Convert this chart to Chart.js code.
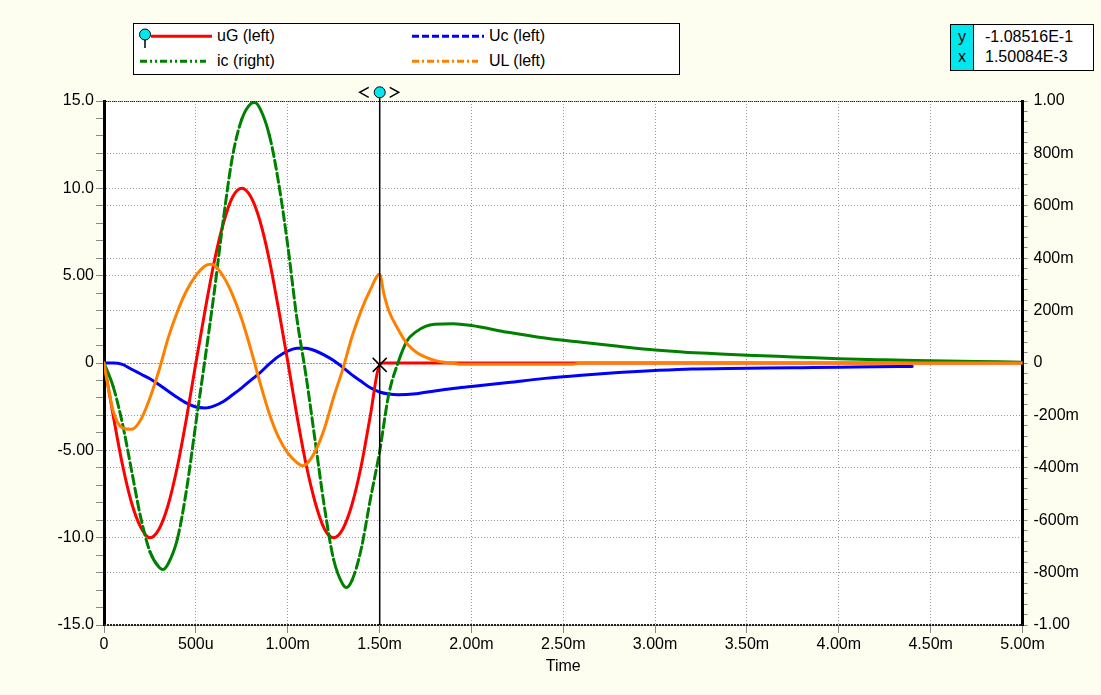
<!DOCTYPE html>
<html>
<head>
<meta charset="utf-8">
<script src="https://cdn.jsdelivr.net/npm/chart.js@4.4.1/dist/chart.umd.min.js"></script>
<style>
  html, body { margin:0; padding:0; background:#FDFDF0; }
  #wrap { position:relative; width:1101px; height:695px; overflow:hidden; font-family:'Liberation Sans', Arial, sans-serif; }
  canvas { position:absolute; left:0; top:0; }
  .box { position:absolute; box-sizing:border-box; background:#fff; border:1.5px solid #000; }
  .txt { position:absolute; font-size:16px; line-height:18px; color:#000; white-space:nowrap; }
</style>
</head>
<body>
<div id="wrap">
  <canvas id="c" width="1101" height="695"></canvas>
  <div class="box" id="legend" style="left:133px; top:23px; width:547px; height:52px;">
    <svg width="544" height="49" style="position:absolute;left:0;top:0;">
      <line x1="17" y1="12.2" x2="78" y2="12.2" stroke="#FF0000" stroke-width="3"/>
      <line x1="11" y1="15" x2="11" y2="24" stroke="#000" stroke-width="1.5"/>
      <circle cx="11" cy="10.5" r="5.5" fill="#00E8EE" stroke="#000" stroke-width="1"/>
      <line x1="278" y1="12.2" x2="350" y2="12.2" stroke="#0000FF" stroke-width="3" stroke-dasharray="7,3"/>
      <line x1="6" y1="37.2" x2="72" y2="37.2" stroke="#008000" stroke-width="3" stroke-dasharray="7,3,2,3,2,3"/>
      <line x1="278" y1="37.2" x2="344" y2="37.2" stroke="#FF8000" stroke-width="3" stroke-dasharray="7,3,2,3"/>
    </svg>
    <span class="txt" style="left:83px; top:3px;">uG (left)</span>
    <span class="txt" style="left:355px; top:3px;">Uc (left)</span>
    <span class="txt" style="left:83px; top:28px;">ic (right)</span>
    <span class="txt" style="left:355px; top:28px;">UL (left)</span>
  </div>
  <div class="box" id="cursorBox" style="left:950px; top:24px; width:144px; height:47px;">
    <div style="position:absolute;left:0;top:0;width:22px;height:100%;background:#00E8EE;border-right:1px solid #000;"></div>
    <span class="txt" style="left:0; width:22px; text-align:center; top:3px;">y</span>
    <span class="txt" style="left:0; width:22px; text-align:center; top:23px;">x</span>
    <span class="txt" id="cy" style="left:34px; top:3px;"></span>
    <span class="txt" id="cx" style="left:34px; top:23px;"></span>
  </div>
</div>
<script>
// ---------- data (time in ms) ----------
const uGTime = [0,0.05,0.1,0.15,0.2,0.25,0.3,0.35,0.4,0.45,0.5,0.55,0.6,0.65,0.7,0.75,0.8,0.85,0.9,0.95,1.0,1.05,1.1,1.15,1.2,1.25,1.3,1.35,1.4,1.45,1.5,1.52,5.0];
const uGValues = [0,-3.0,-5.8,-8.0,-9.4,-10.0,-9.5,-8.1,-5.9,-3.1,0,3.0,5.8,8.0,9.5,10.0,9.5,8.1,5.9,3.1,0.1,-3.0,-5.8,-8.0,-9.5,-10.0,-9.5,-8.1,-5.9,-3.0,-0.1,0,0];

const UcTime = [0,0.05,0.1,0.15,0.2,0.25,0.3,0.35,0.4,0.45,0.5,0.55,0.6,0.65,0.7,0.75,0.8,0.85,0.9,0.95,1.0,1.05,1.1,1.15,1.2,1.25,1.3,1.35,1.4,1.45,1.5,1.55,1.6,1.7,1.8,1.9,2.0,2.2,2.4,2.6,2.8,3.0,3.2,3.4,3.6,3.8,4.0,4.2,4.4];
const UcValues = [0,0,-0.08,-0.36,-0.63,-0.90,-1.24,-1.62,-1.98,-2.30,-2.52,-2.57,-2.45,-2.20,-1.82,-1.42,-0.98,-0.55,-0.05,0.38,0.68,0.85,0.84,0.70,0.45,0.14,-0.25,-0.68,-1.05,-1.42,-1.66,-1.78,-1.82,-1.76,-1.60,-1.46,-1.35,-1.12,-0.88,-0.70,-0.55,-0.43,-0.34,-0.32,-0.29,-0.27,-0.25,-0.21,-0.20];

const icTime = [0,0.05,0.1,0.15,0.2,0.25,0.3,0.32,0.35,0.4,0.45,0.5,0.55,0.6,0.65,0.7,0.75,0.8,0.82,0.85,0.9,0.95,1.0,1.05,1.1,1.15,1.2,1.25,1.3,1.32,1.35,1.4,1.45,1.5,1.55,1.6,1.65,1.7,1.75,1.8,1.9,2.0,2.2,2.4,2.6,2.8,3.0,3.25,3.5,3.75,4.0,4.25,4.5,4.75,5.0];
const icValues = [0,-0.09,-0.23,-0.41,-0.59,-0.72,-0.78,-0.788,-0.765,-0.67,-0.48,-0.23,0.015,0.27,0.55,0.79,0.93,0.99,0.994,0.97,0.87,0.69,0.45,0.17,-0.05,-0.30,-0.55,-0.75,-0.845,-0.857,-0.83,-0.71,-0.52,-0.34,-0.12,0.0,0.085,0.12,0.14,0.148,0.150,0.143,0.117,0.095,0.079,0.064,0.050,0.038,0.030,0.023,0.016,0.012,0.009,0.006,0.003];

const ULTime = [0,0.025,0.05,0.1,0.15,0.2,0.25,0.3,0.35,0.4,0.45,0.5,0.55,0.58,0.6,0.65,0.7,0.75,0.8,0.85,0.9,0.95,1.0,1.05,1.08,1.1,1.15,1.2,1.25,1.3,1.35,1.4,1.45,1.5,1.525,1.55,1.6,1.65,1.7,1.75,1.8,1.85,1.9,1.95,2.55,2.6,5.0];
const ULValues = [0,-1.5,-2.75,-3.72,-3.80,-3.25,-2.0,-0.4,1.45,2.95,4.15,5.0,5.55,5.65,5.6,4.95,3.9,2.5,0.75,-1.15,-2.9,-4.25,-5.15,-5.7,-5.88,-5.8,-5.05,-3.75,-1.96,-0.35,1.5,3.0,4.2,5.08,3.9,3.0,1.95,1.1,0.62,0.33,0.15,0.04,-0.02,-0.07,-0.07,0,0];

// ---------- axes ----------
const xTickValues = [0,0.5,1.0,1.5,2.0,2.5,3.0,3.5,4.0,4.5,5.0];
const xTickLabels = ['0','500u','1.00m','1.50m','2.00m','2.50m','3.00m','3.50m','4.00m','4.50m','5.00m'];
const yLeftMajorValues = [15,10,5,0,-5,-10,-15];
const yLeftTickLabels = ['15.0','10.0','5.00','0','-5.00','-10.0','-15.0'];
const yRightMajorValues = [1,0.8,0.6,0.4,0.2,0,-0.2,-0.4,-0.6,-0.8,-1];
const yRightTickLabels = ['1.00','800m','600m','400m','200m','0','-200m','-400m','-600m','-800m','-1.00'];

// cursor readout
const cursorTime = 1.50084;      // ms
const cursorValue = -0.108516;   // left axis
const cursorYText = '-1.08516E-1';
const cursorXText = '1.50084E-3';
document.getElementById('cy').textContent = cursorYText;
document.getElementById('cx').textContent = cursorXText;

const FONT = {family:"'Liberation Sans', Arial, sans-serif", size:16};
const toPts = (t, v) => t.map((x, i) => ({x, y: v[i]}));
const findMajor = (majors, v) => majors.findIndex(m => Math.abs(m - v) < 1e-6);

const decor = {
  id: 'decor',
  beforeDraw(chart) {
    const {ctx, chartArea: a} = chart;
    ctx.save();
    ctx.fillStyle = '#FDFDF0';
    ctx.fillRect(0, 0, chart.width, chart.height);
    ctx.fillStyle = '#FFFFFF';
    ctx.fillRect(a.left, a.top, a.right - a.left, a.bottom - a.top);
    ctx.restore();
  },
  afterDraw(chart) {
    const {ctx, chartArea: a} = chart;
    const xs = chart.scales.x, ys = chart.scales.yL;
    ctx.save();
    // top/bottom frame lines (dotted)
    ctx.strokeStyle = '#222';
    ctx.lineWidth = 1;
    ctx.setLineDash([1, 1]);
    ctx.beginPath(); ctx.moveTo(a.left, a.top + 0.5); ctx.lineTo(a.right, a.top + 0.5); ctx.stroke();
    ctx.lineWidth = 2;
    ctx.setLineDash([2, 1]);
    ctx.beginPath(); ctx.moveTo(a.left, a.bottom); ctx.lineTo(a.right, a.bottom); ctx.stroke();
    ctx.setLineDash([]);
    // cursor line
    const cx = xs.getPixelForValue(cursorTime);
    const cy = ys.getPixelForValue(cursorValue);
    ctx.strokeStyle = '#000';
    ctx.lineWidth = 1.5;
    ctx.beginPath(); ctx.moveTo(cx, 96); ctx.lineTo(cx, a.bottom); ctx.stroke();
    // X marker
    ctx.lineWidth = 1.5;
    ctx.beginPath();
    ctx.moveTo(cx - 7, cy - 7); ctx.lineTo(cx + 7, cy + 7);
    ctx.moveTo(cx + 7, cy - 7); ctx.lineTo(cx - 7, cy + 7);
    ctx.stroke();
    // handle
    const hy = 92.3;
    ctx.beginPath(); ctx.arc(cx, hy, 5.5, 0, Math.PI * 2);
    ctx.fillStyle = '#00E8EE'; ctx.fill();
    ctx.lineWidth = 1; ctx.strokeStyle = '#000'; ctx.stroke();
    ctx.lineWidth = 1.5;
    ctx.beginPath();
    ctx.moveTo(cx - 11, hy - 5); ctx.lineTo(cx - 20, hy); ctx.lineTo(cx - 11, hy + 5);
    ctx.moveTo(cx + 10, hy - 5); ctx.lineTo(cx + 19, hy); ctx.lineTo(cx + 10, hy + 5);
    ctx.stroke();
    ctx.restore();
  }
};

const steepDash = c => {
  const dx = Math.abs(c.p1.x - c.p0.x) || 1e-6;
  const dy = Math.abs(c.p1.y - c.p0.y);
  return dy / dx > 3 ? [9, 4] : undefined;
};

new Chart(document.getElementById('c'), {
  type: 'line',
  data: {
    datasets: [
      {label:'uG (left)', data: toPts(uGTime, uGValues), yAxisID:'yL', borderColor:'#FF0000', borderWidth:3, order:2},
      {label:'Uc (left)', data: toPts(UcTime, UcValues), yAxisID:'yL', borderColor:'#0000FF', borderWidth:3, order:3},
      {label:'ic (right)', data: toPts(icTime, icValues), yAxisID:'yR', borderColor:'#008000', borderWidth:3, order:1,
        segment: {borderDash: steepDash}},
      {label:'UL (left)', data: toPts(ULTime, ULValues), yAxisID:'yL', borderColor:'#FF8000', borderWidth:3, order:0}
    ]
  },
  options: {
    responsive: false,
    animation: false,
    events: [],
    layout: {padding: {top:101, left:0, right:0, bottom:0}},
    elements: {point: {radius:0}, line: {cubicInterpolationMode:'monotone', borderCapStyle:'round', borderJoinStyle:'round'}},
    plugins: {legend: {display:false}, tooltip: {enabled:false}, title: {display:false}},
    scales: {
      x: {
        type:'linear', min:0, max:5,
        afterBuildTicks: s => { s.ticks = xTickValues.map(v => ({value:v})); },
        afterFit: s => { s.height = 70; },
        ticks: {autoSkip:false, maxRotation:0, padding:2, color:'#000', font:FONT,
          callback: v => { const i = findMajor(xTickValues, v); return i >= 0 ? xTickLabels[i] : ''; }},
        grid: {color:'#999', lineWidth:1, tickColor:'#888', tickLength:8},
        border: {display:false, dash:[1,2]},
        title: {display:true, text:'Time', color:'#000', font:FONT, padding:{top:0, bottom:19}}
      },
      yL: {
        type:'linear', position:'left', min:-15, max:15,
        afterBuildTicks: s => { const t = []; for (let k = -15; k <= 15; k++) t.push({value:k}); s.ticks = t; },
        afterFit: s => { s.width = 104; },
        ticks: {autoSkip:false, padding:2, color:'#000', font:FONT,
          callback: v => { const i = findMajor(yLeftMajorValues, v); return i >= 0 ? yLeftTickLabels[i] : ''; }},
        grid: {lineWidth:1, tickColor:'#888', tickLength:8,
          color: c => findMajor(yLeftMajorValues, c.tick.value) >= 0 ? '#999' : 'rgba(0,0,0,0)'},
        border: {display:true, color:'#000', width:3, dash:[1,2]}
      },
      yR: {
        type:'linear', position:'right', min:-1, max:1,
        afterBuildTicks: s => { const t = []; for (let k = -25; k <= 25; k++) t.push({value:k / 25}); s.ticks = t; },
        afterFit: s => { s.width = 78.5; },
        ticks: {autoSkip:false, padding:6, color:'#000', font:FONT,
          callback: v => { const i = findMajor(yRightMajorValues, v); return i >= 0 ? yRightTickLabels[i] : ''; }},
        grid: {lineWidth:1, tickColor:'#888', tickLength:5,
          color: c => findMajor(yRightMajorValues, c.tick.value) >= 0 ? '#999' : 'rgba(0,0,0,0)'},
        border: {display:true, color:'#000', width:3, dash:[1,2]}
      }
    }
  },
  plugins: [decor]
});
</script>
</body>
</html>
